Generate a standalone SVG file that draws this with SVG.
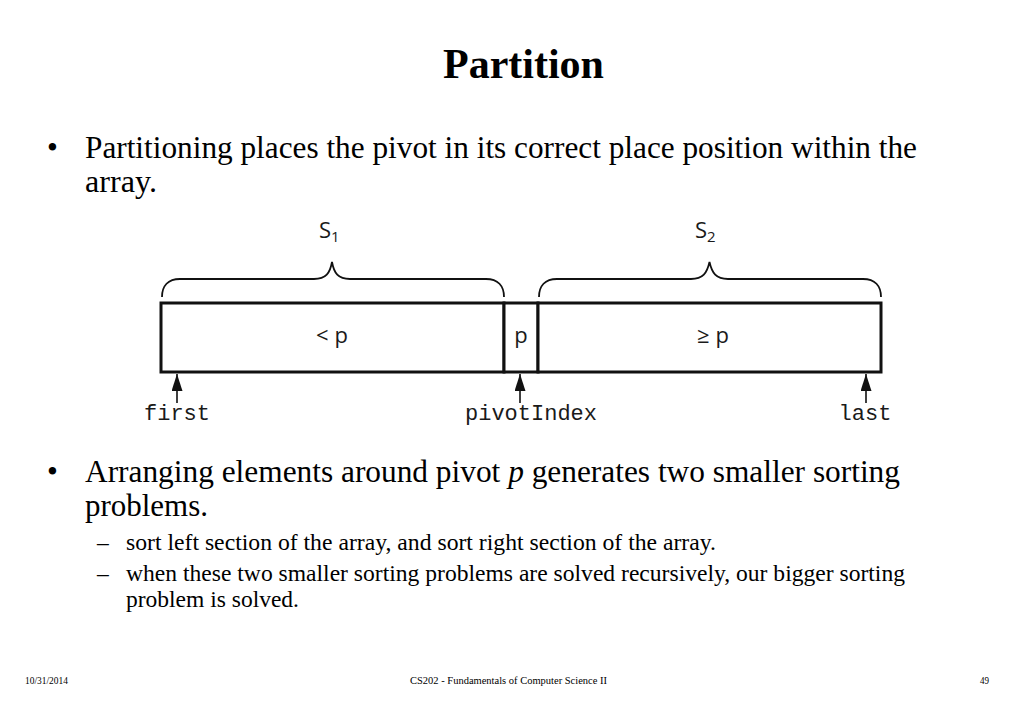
<svg xmlns="http://www.w3.org/2000/svg" width="1023" height="708" viewBox="0 0 1023 708">
  <style>
    .serif { font-family: "Liberation Serif", "Times New Roman", serif; fill: #000; }
    .title { font-size: 42px; font-weight: bold; }
    .b1 { font-size: 31px; }
    .b2 { font-size: 23.5px; }
    .foot { font-size: 10px; }
    .sans { font-family: "Open Sans", "Noto Sans", "DejaVu Sans", sans-serif; fill: #1a1a1a; font-size: 22px; }
    .sub { font-size: 15px; }
    .mono { font-family: "Liberation Mono", "Courier New", monospace; font-size: 22px; fill: #1a1a1a; }
    .cell { fill: #fff; stroke: #111; stroke-width: 3; }
    .brace { fill: none; stroke: #111; stroke-width: 1.8; }
    .shaft { stroke: #111; stroke-width: 1.6; fill: none; }
  </style>
  <defs>
    <marker id="arr" viewBox="0 0 17 11" refX="17" refY="5.5" markerWidth="17" markerHeight="11" markerUnits="userSpaceOnUse" orient="auto">
      <path d="M0,0 L17,5.5 L0,11 Z" fill="#111"/>
    </marker>
  </defs>
  <rect width="1023" height="708" fill="#fff"/>

  <g id="title">
    <text class="serif title" x="523.5" y="78" text-anchor="middle">Partition</text>
  </g>

  <g id="bullet1">
    <text class="serif b1" x="47" y="158">•</text>
    <text class="serif b1" x="85" y="158" textLength="832" lengthAdjust="spacingAndGlyphs">Partitioning places the pivot in its correct place position within the</text>
    <text class="serif b1" x="85" y="192" textLength="72" lengthAdjust="spacingAndGlyphs">array.</text>
  </g>

  <g id="bullet2">
    <text class="serif b1" x="47" y="482">•</text>
    <text class="serif b1" x="85" y="482" textLength="815" lengthAdjust="spacingAndGlyphs">Arranging elements around pivot <tspan font-style="italic">p</tspan> generates two smaller sorting</text>
    <text class="serif b1" x="85" y="516" textLength="123" lengthAdjust="spacingAndGlyphs">problems.</text>
    <text class="serif b2" x="97" y="550">–</text>
    <text class="serif b2" x="126" y="550" textLength="590" lengthAdjust="spacingAndGlyphs">sort left section of the array, and sort right section of the array.</text>
    <text class="serif b2" x="97" y="581">–</text>
    <text class="serif b2" x="126" y="581" textLength="779" lengthAdjust="spacingAndGlyphs">when these two smaller sorting problems are solved recursively, our bigger sorting</text>
    <text class="serif b2" x="126" y="607" textLength="173" lengthAdjust="spacingAndGlyphs">problem is solved.</text>
  </g>

  <g id="brace-s1">
    <path class="brace" d="M162,297 C162,286 168,279 180,279 L314,279 C326,279 330,273 332,262 C334,273 338,279 350,279 L486,279 C498,279 504,286 504,297"/>
    <text class="sans" x="319" y="238" font-size="20">S<tspan class="sub" dy="4">1</tspan></text>
  </g>
  <g id="brace-s2">
    <path class="brace" d="M539,297 C539,286 545,279 557,279 L691,279 C703,279 707,273 709.5,262 C712,273 716,279 728,279 L863,279 C875,279 881,286 881,297"/>
    <text class="sans" x="695" y="238" font-size="20">S<tspan class="sub" dy="4">2</tspan></text>
  </g>

  <g id="cell-less">
    <rect class="cell" x="161" y="303" width="343" height="69"/>
    <text class="sans" x="332" y="343" text-anchor="middle">&lt; p</text>
  </g>
  <g id="cell-pivot">
    <rect class="cell" x="504" y="303" width="34" height="69"/>
    <text class="sans" x="521" y="343" text-anchor="middle">p</text>
  </g>
  <g id="cell-greater">
    <rect class="cell" x="538" y="303" width="343" height="69"/>
    <text class="sans" x="713" y="343" text-anchor="middle">≥ p</text>
  </g>

  <g id="label-first">
    <text class="mono" x="177" y="420" text-anchor="middle">first</text>
  </g>
  <g id="label-pivotIndex">
    <text class="mono" x="531" y="420" text-anchor="middle">pivotIndex</text>
  </g>
  <g id="label-last">
    <text class="mono" x="865" y="420" text-anchor="middle">last</text>
  </g>

  <g id="connectors">
    <line class="shaft" x1="177" y1="403" x2="177" y2="374" marker-end="url(#arr)"/>
    <line class="shaft" x1="520" y1="403" x2="520" y2="374" marker-end="url(#arr)"/>
    <line class="shaft" x1="866" y1="403" x2="866" y2="374" marker-end="url(#arr)"/>
  </g>

  <g id="footer">
    <text class="serif foot" x="25" y="684" textLength="43" lengthAdjust="spacingAndGlyphs">10/31/2014</text>
    <text class="serif foot" x="410" y="684" textLength="197" lengthAdjust="spacingAndGlyphs">CS202 - Fundamentals of Computer Science II</text>
    <text class="serif foot" x="980" y="684" textLength="9" lengthAdjust="spacingAndGlyphs">49</text>
  </g>
</svg>
